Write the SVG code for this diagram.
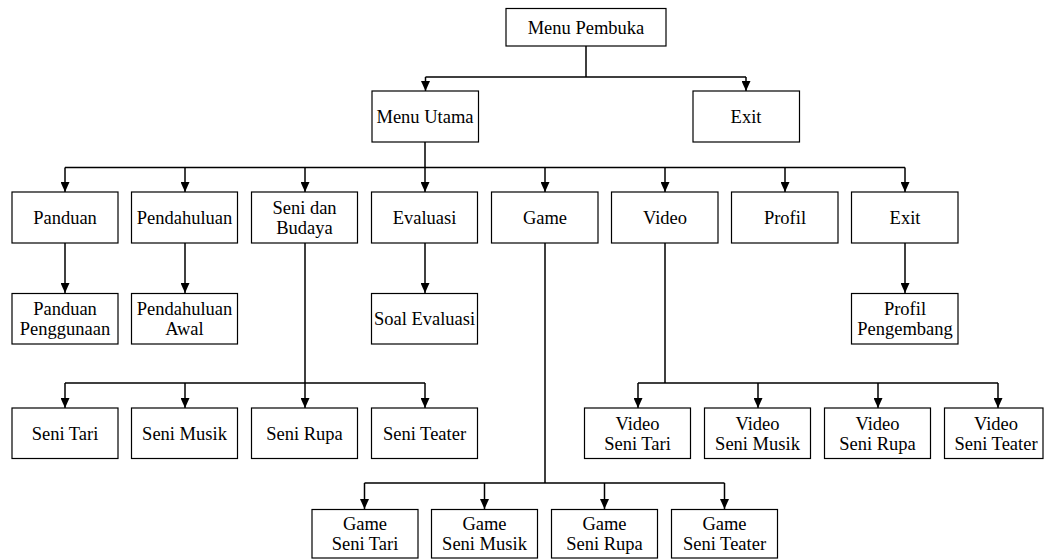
<svg xmlns="http://www.w3.org/2000/svg" width="1045" height="560" viewBox="0 0 1045 560">
<style>
.box{fill:#fff;stroke:#000;stroke-width:1.2}
.t{font-family:"Liberation Serif","Times New Roman",serif;font-size:18.5px;fill:#000;text-anchor:middle}
.c{fill:none;stroke:#000;stroke-width:1.5}
</style>
<defs>
<marker id="ah" markerUnits="userSpaceOnUse" markerWidth="10" markerHeight="9" viewBox="0 0 10 9" refX="10" refY="4.5" orient="auto">
<path d="M0,0 L10,4.5 L0,9 z" fill="#000"/>
</marker>
</defs>
<rect width="1045" height="560" fill="#fff"/>
<g id="connectors">
<path class="c" d="M586,46 V77 M425.5,77 H746"/>
<path class="c" d="M425.5,77 V91" marker-end="url(#ah)"/>
<path class="c" d="M746,77 V91" marker-end="url(#ah)"/>
<path class="c" d="M425,142 V167.5 M65,167.5 H905"/>
<path class="c" d="M65,167.5 V192" marker-end="url(#ah)"/>
<path class="c" d="M185,167.5 V192" marker-end="url(#ah)"/>
<path class="c" d="M305,167.5 V192" marker-end="url(#ah)"/>
<path class="c" d="M425,167.5 V192" marker-end="url(#ah)"/>
<path class="c" d="M545,167.5 V192" marker-end="url(#ah)"/>
<path class="c" d="M665,167.5 V192" marker-end="url(#ah)"/>
<path class="c" d="M785,167.5 V192" marker-end="url(#ah)"/>
<path class="c" d="M905,167.5 V192" marker-end="url(#ah)"/>
<path class="c" d="M65,243 V293" marker-end="url(#ah)"/>
<path class="c" d="M185,243 V293" marker-end="url(#ah)"/>
<path class="c" d="M425,243 V293" marker-end="url(#ah)"/>
<path class="c" d="M905,243 V293" marker-end="url(#ah)"/>
<path class="c" d="M305,243 V383 M65,383 H425"/>
<path class="c" d="M65,383 V408" marker-end="url(#ah)"/>
<path class="c" d="M185,383 V408" marker-end="url(#ah)"/>
<path class="c" d="M305,383 V408" marker-end="url(#ah)"/>
<path class="c" d="M425,383 V408" marker-end="url(#ah)"/>
<path class="c" d="M665,243 V383 M638,383 H998"/>
<path class="c" d="M638,383 V408" marker-end="url(#ah)"/>
<path class="c" d="M758,383 V408" marker-end="url(#ah)"/>
<path class="c" d="M878,383 V408" marker-end="url(#ah)"/>
<path class="c" d="M998,383 V408" marker-end="url(#ah)"/>
<path class="c" d="M545,243 V483 M364.5,483 H724.5"/>
<path class="c" d="M364.5,483 V509" marker-end="url(#ah)"/>
<path class="c" d="M484.5,483 V509" marker-end="url(#ah)"/>
<path class="c" d="M604.5,483 V509" marker-end="url(#ah)"/>
<path class="c" d="M724.5,483 V509" marker-end="url(#ah)"/>
</g>
<g id="menu-pembuka"><rect class="box" x="506" y="8.5" width="160" height="37.5"/><text class="t" x="586" y="33.5">Menu Pembuka</text></g>
<g id="menu-utama"><rect class="box" x="372" y="91" width="106.5" height="51"/><text class="t" x="425" y="123">Menu Utama</text></g>
<g id="exit-top"><rect class="box" x="693" y="91" width="106.5" height="51"/><text class="t" x="746" y="123">Exit</text></g>

<g id="panduan"><rect class="box" x="12" y="192" width="106" height="51"/><text class="t" x="65" y="224">Panduan</text></g>
<g id="pendahuluan"><rect class="box" x="131.5" y="192" width="106" height="51"/><text class="t" x="184.5" y="224">Pendahuluan</text></g>
<g id="seni-budaya"><rect class="box" x="251.5" y="192" width="106" height="51"/><text class="t" x="304.5" y="213.5">Seni dan</text><text class="t" x="304.5" y="233.5">Budaya</text></g>
<g id="evaluasi"><rect class="box" x="371.5" y="192" width="106" height="51"/><text class="t" x="424.5" y="224">Evaluasi</text></g>
<g id="game"><rect class="box" x="491.5" y="192" width="106.5" height="51"/><text class="t" x="545" y="224">Game</text></g>
<g id="video"><rect class="box" x="611.5" y="192" width="106.5" height="51"/><text class="t" x="665" y="224">Video</text></g>
<g id="profil"><rect class="box" x="731.5" y="192" width="106.5" height="51"/><text class="t" x="785" y="224">Profil</text></g>
<g id="exit"><rect class="box" x="851.5" y="192" width="106.5" height="51"/><text class="t" x="905" y="224">Exit</text></g>

<g id="panduan-penggunaan"><rect class="box" x="12" y="293.5" width="106" height="50.5"/><text class="t" x="65" y="315">Panduan</text><text class="t" x="65" y="335">Penggunaan</text></g>
<g id="pendahuluan-awal"><rect class="box" x="131.5" y="293.5" width="106" height="50.5"/><text class="t" x="184.5" y="315">Pendahuluan</text><text class="t" x="184.5" y="335">Awal</text></g>
<g id="soal-evaluasi"><rect class="box" x="371.5" y="293.5" width="106" height="50.5"/><text class="t" x="424.5" y="325">Soal Evaluasi</text></g>
<g id="profil-pengembang"><rect class="box" x="851.5" y="293.5" width="106.5" height="50.5"/><text class="t" x="905" y="315">Profil</text><text class="t" x="905" y="335">Pengembang</text></g>

<g id="seni-tari"><rect class="box" x="12" y="408" width="106" height="50.5"/><text class="t" x="65" y="440">Seni Tari</text></g>
<g id="seni-musik"><rect class="box" x="131.5" y="408" width="106" height="50.5"/><text class="t" x="184.5" y="440">Seni Musik</text></g>
<g id="seni-rupa"><rect class="box" x="251.5" y="408" width="106" height="50.5"/><text class="t" x="304.5" y="440">Seni Rupa</text></g>
<g id="seni-teater"><rect class="box" x="371.5" y="408" width="106" height="50.5"/><text class="t" x="424.5" y="440">Seni Teater</text></g>

<g id="video-seni-tari"><rect class="box" x="584.5" y="408" width="106" height="50.5"/><text class="t" x="637.5" y="429.5">Video</text><text class="t" x="637.5" y="449.5">Seni Tari</text></g>
<g id="video-seni-musik"><rect class="box" x="704.5" y="408" width="106" height="50.5"/><text class="t" x="757.5" y="429.5">Video</text><text class="t" x="757.5" y="449.5">Seni Musik</text></g>
<g id="video-seni-rupa"><rect class="box" x="824.5" y="408" width="106" height="50.5"/><text class="t" x="877.5" y="429.5">Video</text><text class="t" x="877.5" y="449.5">Seni Rupa</text></g>
<g id="video-seni-teater"><rect class="box" x="944.5" y="408" width="98.5" height="50.5"/><text class="t" x="996" y="429.5">Video</text><text class="t" x="996" y="449.5">Seni Teater</text></g>

<g id="game-seni-tari"><rect class="box" x="312" y="509.5" width="106" height="48.5"/><text class="t" x="365" y="530">Game</text><text class="t" x="365" y="550">Seni Tari</text></g>
<g id="game-seni-musik"><rect class="box" x="431.5" y="509.5" width="106" height="48.5"/><text class="t" x="484.5" y="530">Game</text><text class="t" x="484.5" y="550">Seni Musik</text></g>
<g id="game-seni-rupa"><rect class="box" x="551.5" y="509.5" width="106" height="48.5"/><text class="t" x="604.5" y="530">Game</text><text class="t" x="604.5" y="550">Seni Rupa</text></g>
<g id="game-seni-teater"><rect class="box" x="671.5" y="509.5" width="106" height="48.5"/><text class="t" x="724.5" y="530">Game</text><text class="t" x="724.5" y="550">Seni Teater</text></g>
</svg>
